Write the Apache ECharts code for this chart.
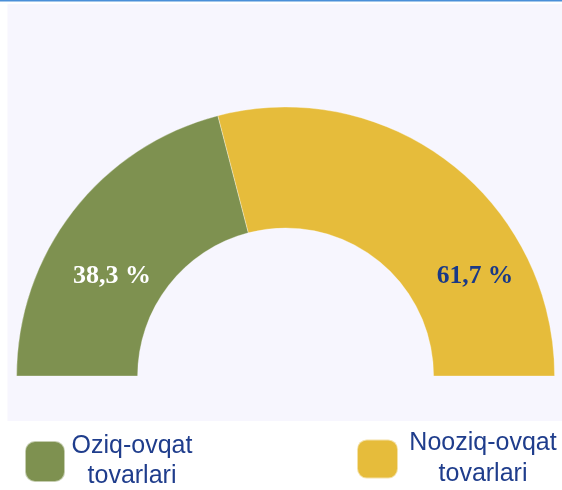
<!DOCTYPE html>
<html>
<head>
<meta charset="utf-8">
<title>Oziq-ovqat / Nooziq-ovqat tovarlari</title>
<script src="https://cdn.jsdelivr.net/npm/echarts@6/dist/echarts.min.js"></script>
<style>
  html, body { margin: 0; padding: 0; background: #fff; }
  #chart { width: 562px; height: 490px; }
</style>
</head>
<body>
<div id="chart"></div>
<script>
// categories as written in the legend (two lines each)
const categories = ['Oziq-ovqat\ntovarlari', 'Nooziq-ovqat\ntovarlari']
// share of the half ring taken by each slice
const sliceShares = [41.9, 58.1]
// label texts as printed on the slices
const sliceLabels = ['38,3 %', '61,7 %']
const colors = ['#7e9150', '#e6bc3b']
const labelColors = ['#ffffff', '#1a3987']

const chart = echarts.init(document.getElementById('chart'))

const legendText = (rich) => ({
  fontFamily: 'Liberation Sans',
  fontSize: 25,
  color: '#1f3d8c',
  rich: { t: rich }
})

chart.setOption({
  animation: false,
  graphic: [
    { type: 'rect', z: -10, shape: { x: 0, y: 0, width: 562, height: 1.5 }, style: { fill: '#4a8fd8' } },
    { type: 'rect', z: -10, shape: { x: 7.5, y: 4, width: 555, height: 417 }, style: { fill: '#f7f6fe' } },
    {
      type: 'text', z: 10, x: 112, y: 276,
      style: { text: sliceLabels[0], fill: labelColors[0], font: 'bold 26px "Liberation Serif"', align: 'center', verticalAlign: 'middle' }
    },
    {
      type: 'text', z: 10, x: 475, y: 276,
      style: { text: sliceLabels[1], fill: labelColors[1], font: 'bold 25.5px "Liberation Serif"', align: 'center', verticalAlign: 'middle' }
    }
  ],
  legend: [
    {
      data: [categories[0]],
      left: 24,
      top: 434,
      padding: 0,
      icon: 'roundRect',
      itemWidth: 40,
      itemHeight: 41,
      selectedMode: false,
      formatter: (n) => n.split('\n').map(s => '{t|' + s + '}').join('\n'),
      textStyle: legendText({ width: 124, align: 'center', lineHeight: 30, fontSize: 25, fontFamily: 'Liberation Sans', color: '#1f3d8c' })
    },
    {
      data: [categories[1]],
      left: 356,
      top: 431,
      padding: 0,
      icon: 'roundRect',
      itemWidth: 41,
      itemHeight: 39,
      selectedMode: false,
      formatter: (n) => n.split('\n').map(s => '{t|' + s + '}').join('\n'),
      textStyle: legendText({ width: 160, align: 'center', lineHeight: 31, fontSize: 25, fontFamily: 'Liberation Sans', color: '#1f3d8c' })
    }
  ],
  series: [
    {
      type: 'pie',
      center: [285.6, 376],
      radius: [148, 269],
      startAngle: 180,
      endAngle: 0,
      clockwise: true,
      silent: true,
      label: { show: false },
      labelLine: { show: false },
      emphasis: { scale: false },
      itemStyle: { borderColor: 'rgba(255,255,255,0.55)', borderWidth: 0.6 },
      data: categories.map((c, i) => ({ name: c, value: sliceShares[i], itemStyle: { color: colors[i] } }))
    }
  ]
})
</script>
</body>
</html>
